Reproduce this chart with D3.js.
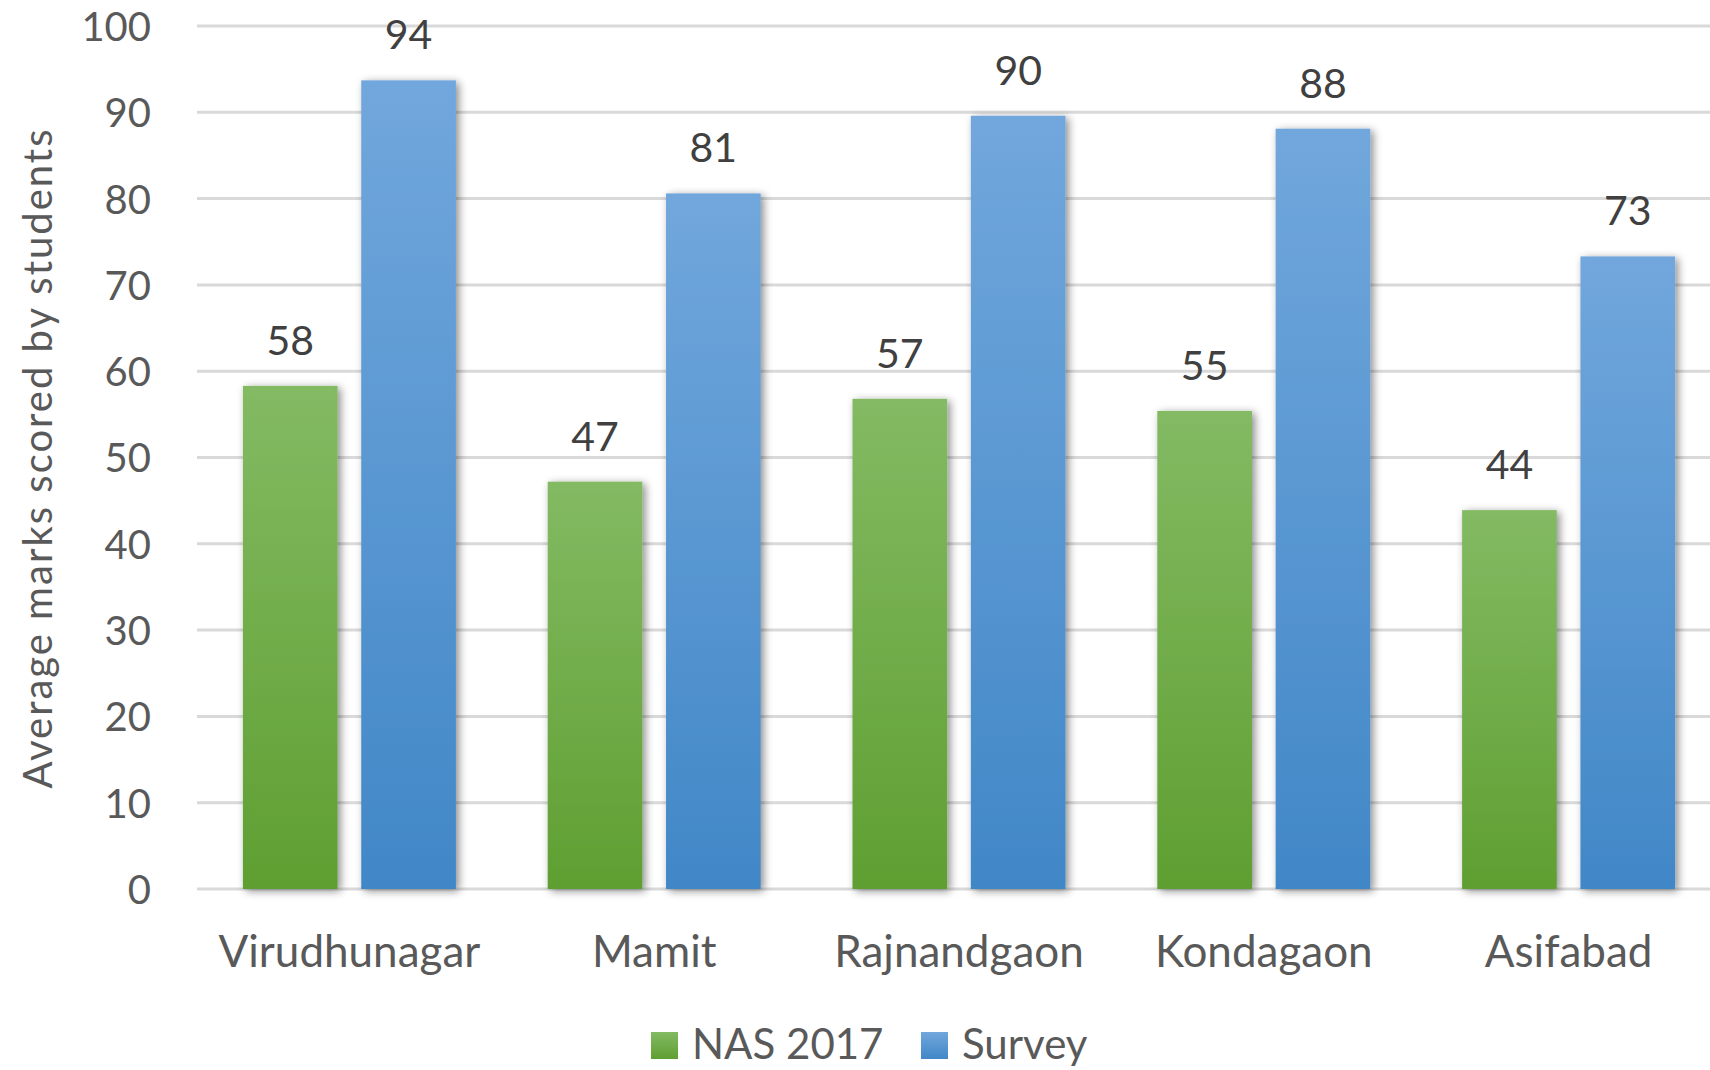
<!DOCTYPE html>
<html>
<head>
<meta charset="utf-8">
<title>Average marks scored by students</title>
<script src="https://cdn.jsdelivr.net/npm/d3@7"></script>
<style>
  html, body { margin: 0; padding: 0; background: #fff; }
  svg text { font-family: Lato, "Open Sans", sans-serif; fill: #595959; }
</style>
</head>
<body>
<svg id="chart" width="1710" height="1070"></svg>
<script>
// data
var districts = ["Virudhunagar", "Mamit", "Rajnandgaon", "Kondagaon", "Asifabad"];
var nasValues = [58.3, 47.2, 56.8, 55.4, 43.9];
var surveyValues = [93.7, 80.6, 89.6, 88.1, 73.3];
var seriesNames = ["NAS 2017", "Survey"];
var yTicks = [0, 10, 20, 30, 40, 50, 60, 70, 80, 90, 100];
var yTitle = "Average marks scored by students";

var svg = d3.select("#chart");

var x = d3.scaleBand().domain(districts).range([197, 1721]).paddingInner(0).paddingOuter(0);
var xs = d3.scaleBand().domain(seriesNames).range([0, 213]).paddingInner(0.2);
var y = d3.scaleLinear().domain([0, 100]).range([889, 26]);

// gradients + shadow
var defs = svg.append("defs");
var grads = [
  {id: "gGreen", top: "#83ba63", bot: "#5f9f31"},
  {id: "gBlue", top: "#71a7dc", bot: "#4187c7"}
];
grads.forEach(function(g) {
  var lg = defs.append("linearGradient").attr("id", g.id)
    .attr("x1", 0).attr("y1", 0).attr("x2", 0).attr("y2", 1);
  lg.append("stop").attr("offset", "0%").attr("stop-color", g.top);
  lg.append("stop").attr("offset", "100%").attr("stop-color", g.bot);
});
var sh = defs.append("filter").attr("id", "shadow")
  .attr("x", "-20%").attr("y", "-20%").attr("width", "150%").attr("height", "140%");
sh.append("feDropShadow").attr("dx", 3).attr("dy", 2).attr("stdDeviation", 4)
  .attr("flood-color", "#000").attr("flood-opacity", 0.45);

// gridlines
svg.append("g").selectAll("line").data(yTicks).enter()
  .append("line")
  .attr("x1", 197).attr("x2", 1710)
  .attr("y1", function(d) { return y(d); })
  .attr("y2", function(d) { return y(d); })
  .attr("stroke", "#d9d9d9").attr("stroke-width", 3);

// y axis labels
var yAxis = d3.axisLeft(y).tickValues(yTicks).tickSize(0).tickPadding(0);
var ya = svg.append("g").attr("transform", "translate(151,0)").call(yAxis);
ya.select(".domain").remove();
ya.selectAll("text").style("font-size", "40px").attr("fill", "#595959")
  .attr("font-family", null).attr("dy", "0.36em");

// y title
svg.append("text")
  .attr("transform", "translate(52,458) rotate(-90)")
  .attr("text-anchor", "middle")
  .style("font-size", "40px")
  .style("letter-spacing", "2px")
  .text(yTitle);

// bars
var colors = {"NAS 2017": "url(#gGreen)", "Survey": "url(#gBlue)"};
var rows = districts.map(function(d, i) {
  return {name: d, vals: [
    {s: "NAS 2017", v: nasValues[i]},
    {s: "Survey", v: surveyValues[i]}
  ]};
});

var groups = svg.append("g").selectAll("g").data(rows).enter()
  .append("g")
  .attr("transform", function(d) {
    return "translate(" + (x(d.name) + (x.bandwidth() - 213) / 2) + ",0)";
  });

groups.selectAll("rect").data(function(d) { return d.vals; }).enter()
  .append("rect")
  .attr("x", function(d) { return xs(d.s); })
  .attr("width", xs.bandwidth())
  .attr("y", function(d) { return y(d.v); })
  .attr("height", function(d) { return y(0) - y(d.v); })
  .attr("fill", function(d) { return colors[d.s]; })
  .attr("filter", "url(#shadow)");

groups.selectAll("text.val").data(function(d) { return d.vals; }).enter()
  .append("text")
  .attr("class", "val")
  .attr("x", function(d) { return xs(d.s) + xs.bandwidth() / 2; })
  .attr("y", function(d) { return y(d.v) - 31; })
  .attr("text-anchor", "middle")
  .style("font-size", "41px")
  .style("fill", "#404040")
  .text(function(d) { return d3.format(".0f")(d.v); });

// category labels
var xAxis = d3.axisBottom(x).tickSize(0).tickPadding(0);
var xa = svg.append("g").attr("transform", "translate(0,967)").call(xAxis);
xa.select(".domain").remove();
xa.selectAll("text").attr("dy", 0).attr("fill", "#595959").attr("font-family", null)
  .style("font-size", "44px");

// legend
var legend = svg.append("g").attr("transform", "translate(651,1059)");
var legItems = [
  {name: seriesNames[0], fill: "url(#gGreen)", x: 0},
  {name: seriesNames[1], fill: "url(#gBlue)", x: 270}
];
var li = legend.selectAll("g").data(legItems).enter().append("g")
  .attr("transform", function(d) { return "translate(" + d.x + ",0)"; });
li.append("rect").attr("x", 0).attr("y", -27).attr("width", 27).attr("height", 27)
  .attr("fill", function(d) { return d.fill; });
li.append("text").attr("x", 41).attr("y", 0).style("font-size", "42px")
  .text(function(d) { return d.name; });
</script>
</body>
</html>
